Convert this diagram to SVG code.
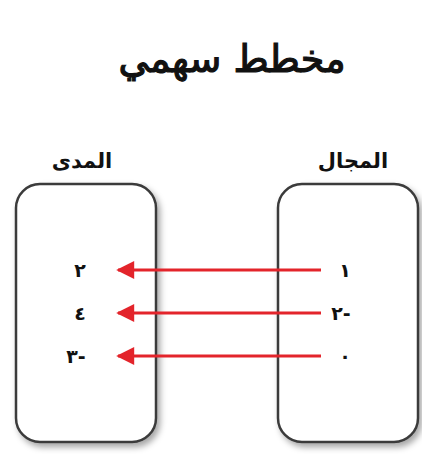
<svg xmlns="http://www.w3.org/2000/svg" width="422" height="454" viewBox="0 0 422 454">
<defs>
<filter id="sh" x="-20%" y="-20%" width="140%" height="140%">
<feDropShadow dx="3" dy="4" stdDeviation="3" flood-color="#000" flood-opacity="0.35"/>
</filter>
<marker id="ah" viewBox="0 0 10 10" refX="9" refY="5" markerWidth="9" markerHeight="6" markerUnits="strokeWidth" orient="auto">
<path d="M10,5 L0,0 L0,10 Z" fill="#e3242b"/>
</marker>
<style>
.box{fill:#fff;stroke:#3a3a3a;stroke-width:2.5;filter:url(#sh)}
.t{font-family:"DejaVu Sans",sans-serif;fill:#111}
.num{font-family:"DejaVu Sans",sans-serif;font-size:19px;font-weight:bold;fill:#111;text-anchor:middle}
.arr{stroke:#e3242b;stroke-width:3;fill:none}
</style>
</defs>
<g id="title"><text class="t" x="232" y="72" font-size="38" stroke="#111" stroke-width="1.2" text-anchor="middle" direction="rtl">مخطط سهمي</text></g>
<g id="range">
<text class="t" x="82" y="168" font-size="21" font-weight="bold" text-anchor="middle" direction="rtl">المدى</text>
<rect class="box" x="16" y="184" width="140" height="258" rx="24"/>
<text class="num" x="80" y="277">٢</text>
<text class="num" x="80" y="320">٤</text>
<text class="num" x="76" y="363" direction="ltr" unicode-bidi="bidi-override">٣-</text>
</g>
<g id="domain">
<text class="t" x="353" y="168" font-size="21" font-weight="bold" text-anchor="middle" direction="rtl">المجال</text>
<rect class="box" x="278" y="184" width="140" height="258" rx="24"/>
<text class="num" x="345" y="277">١</text>
<text class="num" x="341" y="320" direction="ltr" unicode-bidi="bidi-override">٢-</text>
<text class="num" x="345" y="363">٠</text>
</g>
<g id="connectors">
<line class="arr" x1="321" y1="270" x2="118" y2="270" marker-end="url(#ah)"/>
<line class="arr" x1="321" y1="313" x2="118" y2="313" marker-end="url(#ah)"/>
<line class="arr" x1="321" y1="356" x2="118" y2="356" marker-end="url(#ah)"/>
</g>
</svg>
